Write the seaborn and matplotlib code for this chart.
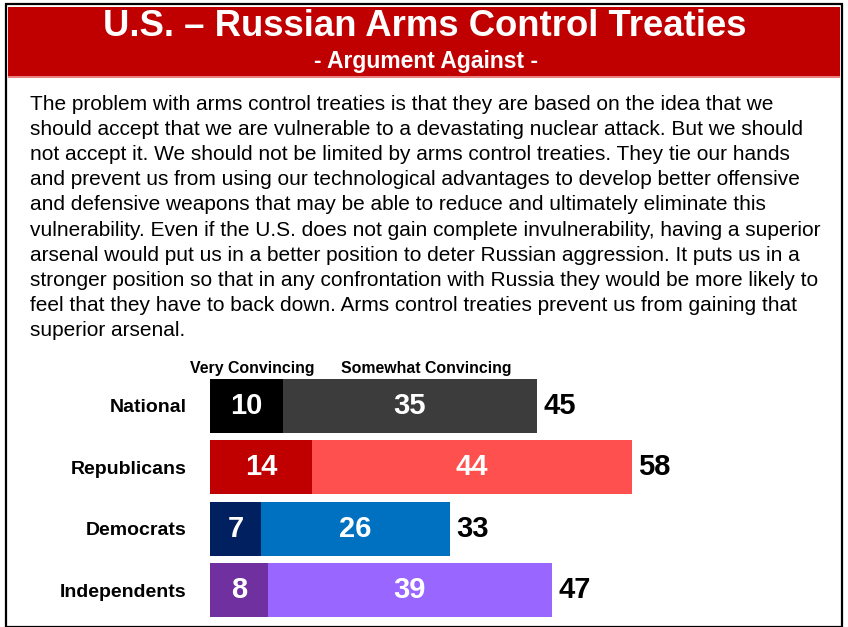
import matplotlib
matplotlib.use("Agg")
import matplotlib.pyplot as plt
import seaborn as sns
import pandas as pd
from matplotlib.patches import Rectangle

groups = ["National", "Republicans", "Democrats", "Independents"]
very = [10, 14, 7, 8]
somewhat = [35, 44, 26, 39]
total = [45, 58, 33, 47]
very_colors = ["#000000", "#C00000", "#002060", "#7030A0"]
somewhat_colors = ["#3C3C3C", "#FF5050", "#0070C0", "#9966FF"]
col_labels = ["Very Convincing", "Somewhat Convincing"]
title = "U.S. \u2013 Russian Arms Control Treaties"
subtitle = "- Argument Against -"
body_lines = [
    "The problem with arms control treaties is that they are based on the idea that we",
    "should accept that we are vulnerable to a devastating nuclear attack. But we should",
    "not accept it. We should not be limited by arms control treaties. They tie our hands",
    "and prevent us from using our technological advantages to develop better offensive",
    "and defensive weapons that may be able to reduce and ultimately eliminate this",
    "vulnerability. Even if the U.S. does not gain complete invulnerability, having a superior",
    "arsenal would put us in a better position to deter Russian aggression. It puts us in a",
    "stronger position so that in any confrontation with Russia they would be more likely to",
    "feel that they have to back down. Arms control treaties prevent us from gaining that",
    "superior arsenal.",
]

W, H = 848, 627
DPI = 100
sns.set_theme(style="white")
plt.rcParams['font.family'] = ['Liberation Sans', 'DejaVu Sans']

fig = plt.figure(figsize=(W / DPI, H / DPI), dpi=DPI)
fig.patch.set_facecolor('white')


def fx(px):
    return px / W


def fy(py):
    return 1 - py / H


# border and header
fig.add_artist(Rectangle((fx(6), fy(627)), fx(842) - fx(6), fy(4) - fy(627),
                         transform=fig.transFigure, fill=False, ec='black', lw=1.6))
fig.add_artist(Rectangle((fx(8), fy(76)), fx(840) - fx(8), fy(7) - fy(76),
                         transform=fig.transFigure, fc='#C00000', ec='none'))
fig.add_artist(Rectangle((fx(8), fy(78)), fx(840) - fx(8), fy(76) - fy(78),
                         transform=fig.transFigure, fc='#E88080', ec='none'))
fig.text(fx(425), fy(36.5), title, ha='center', va='baseline', color='white',
         fontsize=26.3, fontweight='bold')
fig.text(fx(426), fy(68), subtitle, ha='center', va='baseline', color='white',
         fontsize=16.5, fontweight='bold')

# body text
for i, line in enumerate(body_lines):
    fig.text(fx(30), fy(104.5 + i * 25.1), line, ha='left', va='center',
             color='black', fontsize=15)

# chart
ax = fig.add_axes([fx(210), fy(621), (828 - 210) / W, (621 - 375) / H])
df = pd.DataFrame({"group": groups, "very": very, "somewhat": somewhat, "total": total})
sns.barplot(data=df, y="group", x="total", hue="group", palette=somewhat_colors,
            width=0.88, ax=ax, legend=False, saturation=1, orient='h', linewidth=0)
sns.barplot(data=df, y="group", x="very", hue="group", palette=very_colors,
            width=0.88, ax=ax, legend=False, saturation=1, orient='h', linewidth=0)
ax.set_xlim(0, 85)
ax.set_ylim(3.5, -0.5)
for s in ax.spines.values():
    s.set_visible(False)
ax.set_xticks([])
ax.set_xlabel("")
ax.set_ylabel("")
ax.tick_params(axis='y', length=0, pad=17)
for lab in ax.get_yticklabels():
    lab.set_fontweight('bold')
    lab.set_fontsize(14)
    lab.set_color('black')

for i in range(len(groups)):
    ax.text(very[i] / 2, i, str(very[i]), ha='center', va='center', color='white',
            fontsize=21, fontweight='bold')
    ax.text(very[i] + somewhat[i] / 2, i, str(somewhat[i]), ha='center', va='center',
            color='white', fontsize=21, fontweight='bold')
    ax.text(total[i] + 0.9, i, str(total[i]), ha='left', va='center', color='black',
            fontsize=21, fontweight='bold')

fig.text(fx(252), fy(368), col_labels[0], ha='center', va='center', color='black',
         fontsize=11.4, fontweight='bold')
fig.text(fx(426), fy(368), col_labels[1], ha='center', va='center', color='black',
         fontsize=11.4, fontweight='bold')

fig.savefig("out.png", dpi=DPI, facecolor='white')
